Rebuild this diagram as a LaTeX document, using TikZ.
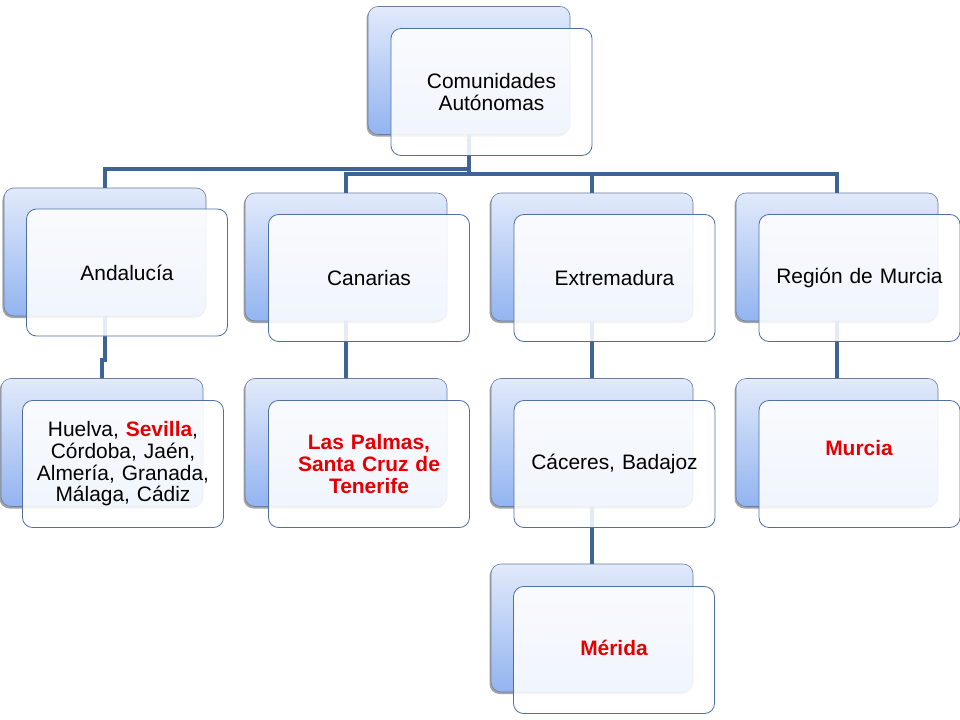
\documentclass[tikz,border=0pt]{standalone}
\usepackage{fontspec}
\setmainfont{Liberation Sans}
\usetikzlibrary{shadows}
\definecolor{conn}{RGB}{62,100,150}
\definecolor{backtop}{RGB}{226,234,251}
\definecolor{backbot}{RGB}{146,180,240}
\definecolor{backline}{RGB}{105,125,160}
\definecolor{frontline}{RGB}{80,112,165}
\definecolor{hl}{RGB}{228,0,0}
\tikzset{
  backbox/.style={rounded corners=10bp, draw=backline, line width=0.6bp,
    top color=backtop, bottom color=backbot,
    minimum width=202bp, minimum height=128bp, inner sep=0pt,
    drop shadow={shadow xshift=-1.5bp, shadow yshift=-2bp, opacity=0.5, fill=black!70}},
  frontbox/.style={rounded corners=10bp, draw=frontline, line width=0.8bp,
    fill=white, fill opacity=0.87, text opacity=1,
    minimum width=201bp, minimum height=127bp, inner sep=2bp,
    align=center, text width=190bp,
    font=\fontsize{21}{21.7}\selectfont},
  boxtext/.style={align=center, inner sep=0pt, font=\fontsize{21}{21.7}\selectfont},
  connector/.style={draw=conn, line width=3.2bp}
}
\newcommand{\hlb}[1]{\textcolor{hl}{\bfseries #1}}
\begin{document}
\begin{tikzpicture}[x=1bp,y=-1bp]
\fill[white] (0,0) rectangle (960,720);
\useasboundingbox (0,0) rectangle (960,720);

% back boxes
\node[backbox] (topB) at (469,70.5) {};
\node[backbox] (andB) at (105,252) {};
\node[backbox] (andcB) at (102,442.5) {};
\node[backbox] (canB) at (346,257) {};
\node[backbox] (cancB) at (346,442.5) {};
\node[backbox] (extB) at (592,257) {};
\node[backbox] (cacB) at (592,442.5) {};
\node[backbox] (merB) at (592,628) {};
\node[backbox] (murB) at (837,257) {};
\node[backbox] (murcB) at (837,442.5) {};

% connectors
\coordinate (j1) at (469,169);
\coordinate (j2) at (469,174);
\coordinate (k1) at (105,360);
\draw[connector] (topB.south) -- (j2);
\draw[connector] (j1) -| (andB.north);
\draw[connector] (j2) -| (canB.north);
\draw[connector] (j2) -| (extB.north);
\draw[connector] (j2) -| (murB.north);
\draw[connector] (andB.south) -- (k1) -| (andcB.north);
\draw[connector] (canB.south) -- (cancB.north);
\draw[connector] (extB.south) -- (cacB.north);
\draw[connector] (cacB.south) -- (merB.north);
\draw[connector] (murB.south) -- (murcB.north);

% front boxes
\node[frontbox] (topF) at (491.5,92) {Comunidades\\Autónomas};
\node[frontbox] (andF) at (127,272.5) {Andalucía};
\node[frontbox] (andcF) at (123,464) {Huelva, \hlb{Sevilla},\\Córdoba, Jaén,\\Almería, Granada,\\Málaga, Cádiz};
\node[frontbox] (canF) at (369,278) {Canarias};
\node[frontbox] (cancF) at (369,464) {\hlb{Las Palmas,}\\\hlb{Santa Cruz de}\\\hlb{Tenerife}};
\node[frontbox] (extF) at (614.5,278) {Extremadura};
\node[frontbox] (cacF) at (614.5,464) {Cáceres, Badajoz};
\node[frontbox] (merF) at (614,650) {};
\node[boxtext] (merT) at (614,648) {\hlb{Mérida}};
\node[frontbox] (murF) at (859.5,278) {Región de Murcia};
\node[frontbox] (murcF) at (859.5,464) {};
\node[boxtext] (murcT) at (859,448) {\hlb{Murcia}};
\end{tikzpicture}
\end{document}
